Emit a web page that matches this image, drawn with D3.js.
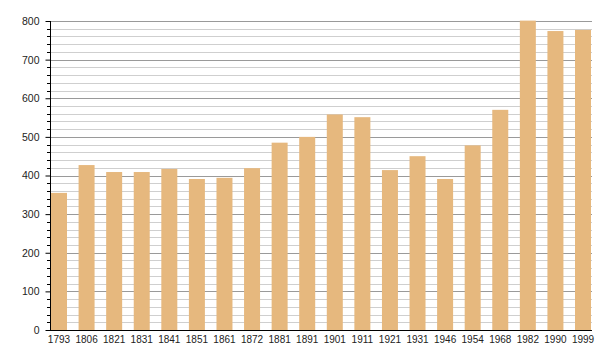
<!DOCTYPE html>
<html>
<head>
<meta charset="utf-8">
<script src="https://cdn.jsdelivr.net/npm/d3@7"></script>
<style>
  body { margin: 0; background: #fff; }
  text { font-family: "Liberation Sans", Arial, sans-serif; font-size: 10px; fill: #222; }
</style>
</head>
<body>
<div id="chart"></div>
<script>
var years = ["1793", "1806", "1821", "1831", "1841", "1851", "1861", "1872", "1881", "1891",
    "1901", "1911", "1921", "1931", "1946", "1954", "1968", "1982", "1990", "1999"],
    population = [355, 427, 409, 409, 417, 391, 394, 419, 485, 500,
        558, 551, 414, 450, 391, 478, 570, 801, 774, 777],
    majorTicks = [0, 100, 200, 300, 400, 500, 600, 700, 800];

var width = 600, height = 360,
    plotLeft = 50, plotRight = 592, plotTop = 21, plotBottom = 330;

var svg = d3.select("#chart").append("svg")
    .attr("width", width)
    .attr("height", height);

var x = d3.scaleBand()
    .domain(years)
    .range([plotLeft + 1, plotRight - 1])
    .paddingInner(0.42)
    .paddingOuter(0)
    .align(0);

var y = d3.scaleLinear()
    .domain([0, 800])
    .range([plotBottom, plotTop]);

var minorTicks = d3.range(0, 801, 20).filter(function (d) { return d % 100 !== 0; });

// grid
svg.selectAll(".minor")
    .data(minorTicks)
    .enter().append("line")
    .attr("x1", plotLeft).attr("x2", plotRight)
    .attr("y1", function (d) { return Math.round(y(d)) + 0.5; })
    .attr("y2", function (d) { return Math.round(y(d)) + 0.5; })
    .attr("stroke", "#cfcfcf");

svg.selectAll(".major")
    .data(majorTicks.slice(1))
    .enter().append("line")
    .attr("x1", plotLeft).attr("x2", plotRight)
    .attr("y1", function (d) { return Math.round(y(d)) + 0.5; })
    .attr("y2", function (d) { return Math.round(y(d)) + 0.5; })
    .attr("stroke", "#9a9a9a");

// bars
svg.selectAll(".bar")
    .data(population)
    .enter().append("rect")
    .attr("x", function (d, i) { return x(years[i]); })
    .attr("y", function (d) { return y(d); })
    .attr("width", x.bandwidth())
    .attr("height", function (d) { return plotBottom - y(d); })
    .attr("fill", "#e6b87e");

// y axis
var yAxis = d3.axisLeft(y).tickValues(majorTicks).tickSize(5).tickPadding(6);
var gy = svg.append("g")
    .attr("transform", "translate(" + (plotLeft + 0.5) + ",0)")
    .call(yAxis);
gy.select(".domain").attr("stroke", "#000").attr("d", "M0," + plotTop + "V" + plotBottom);
gy.selectAll(".tick line").attr("stroke", "#000");
gy.selectAll("text").style("font-size", "10.5px").attr("fill", "#222");

svg.selectAll(".ytickminor")
    .data(minorTicks)
    .enter().append("line")
    .attr("x1", plotLeft - 3).attr("x2", plotLeft)
    .attr("y1", function (d) { return Math.round(y(d)) + 0.5; })
    .attr("y2", function (d) { return Math.round(y(d)) + 0.5; })
    .attr("stroke", "#000");

// x axis
var xAxis = d3.axisBottom(x).tickSize(0).tickPadding(5);
var gx = svg.append("g")
    .attr("transform", "translate(0," + (plotBottom + 0.5) + ")")
    .call(xAxis);
gx.select(".domain").attr("stroke", "#000").attr("d", "M" + plotLeft + ",0H" + plotRight);
gx.selectAll("text").style("font-size", "10px").attr("fill", "#222");
</script>
</body>
</html>
